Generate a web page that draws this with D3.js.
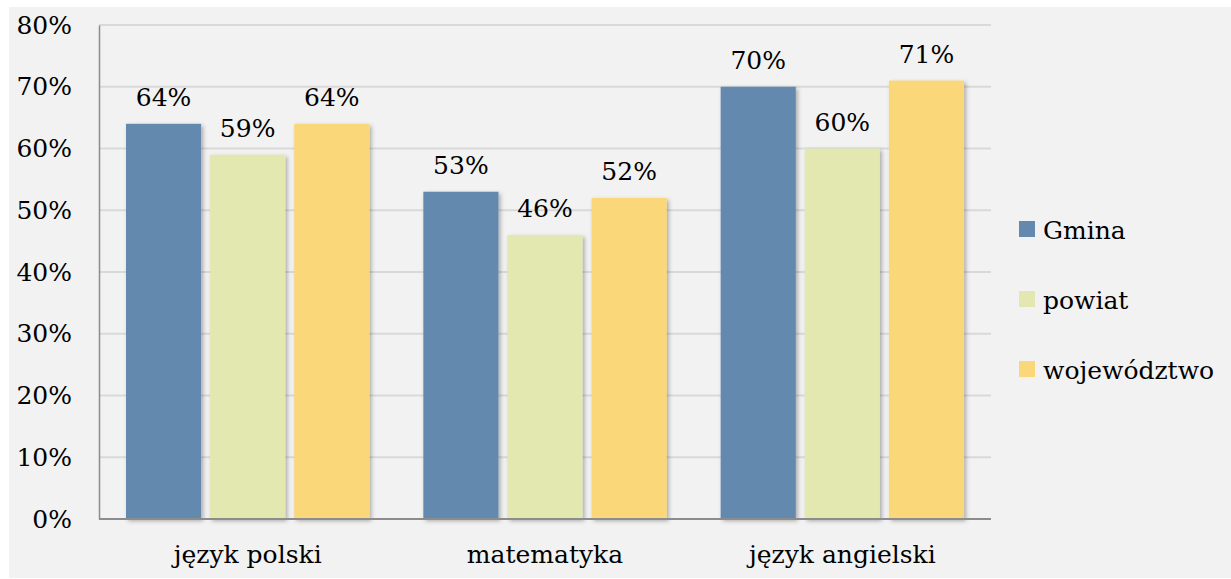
<!DOCTYPE html>
<html>
<head>
<meta charset="utf-8">
<script src="https://cdn.jsdelivr.net/npm/d3@7"></script>
<style>
    body { margin: 0; background: #ffffff; }
    text { font-family: "DejaVu Serif", serif; fill: #000000; }
</style>
</head>
<body>
<div id="chart"></div>
<script>
// data
var categories = ["język polski", "matematyka", "język angielski"];
var seriesNames = ["Gmina", "powiat", "województwo"];
var gmina = [64, 53, 70];
var powiat = [59, 46, 60];
var wojewodztwo = [64, 52, 71];
var yTicks = [0, 10, 20, 30, 40, 50, 60, 70, 80];
var colors = ["#6389ae", "#e2e8b0", "#fad87a"];

var seriesValues = [gmina, powiat, wojewodztwo];

var width = 1231,
    height = 579;

// plot area
var margin = { top: 25, left: 99, right: 240, bottom: 60 };
var plotRight = width - margin.right;   // 991
var plotBottom = height - margin.bottom; // 519

var svg = d3.select("#chart")
    .append("svg")
    .attr("width", width)
    .attr("height", height);

// bar shadow
var defs = svg.append("defs");
var shadow = defs.append("filter")
    .attr("id", "shadow")
    .attr("x", "-10%").attr("y", "-10%")
    .attr("width", "130%").attr("height", "130%");
shadow.append("feDropShadow")
    .attr("dx", 2).attr("dy", 2)
    .attr("stdDeviation", 2)
    .attr("flood-color", "#000")
    .attr("flood-opacity", 0.3);

// grey background
svg.append("rect")
    .attr("x", 9)
    .attr("y", 7)
    .attr("width", width - 9)
    .attr("height", height - 8)
    .attr("fill", "#f2f2f2");

// scales
var x0 = d3.scaleBand()
    .domain(categories)
    .range([margin.left, plotRight])
    .paddingInner(0.1816)
    .paddingOuter(0.0908);

var x1 = d3.scaleBand()
    .domain(seriesNames)
    .range([0, x0.bandwidth()])
    .paddingInner(0.107);

var y = d3.scaleLinear()
    .domain([0, 80])
    .range([plotBottom, margin.top]);

// gridlines
svg.append("g")
    .selectAll("line")
    .data(yTicks.slice(1))
    .enter()
    .append("line")
    .attr("x1", margin.left)
    .attr("x2", plotRight)
    .attr("y1", d => y(d))
    .attr("y2", d => y(d))
    .attr("stroke", "#d9d9d9")
    .attr("stroke-width", 2);

// left y axis
var yAxis = svg.append("g")
    .attr("transform", "translate(" + margin.left + ",0)")
    .call(d3.axisLeft(y)
        .tickValues(yTicks)
        .tickSize(0)
        .tickPadding(27)
        .tickFormat(d => d + "%"));
yAxis.select(".domain")
    .attr("stroke", "#8c8c8c")
    .attr("stroke-width", 1.5);
yAxis.selectAll("text")
    .style("font-size", "25px")
    .style("font-family", "DejaVu Serif");

// bars
var groups = svg.selectAll(".group")
    .data(categories)
    .enter()
    .append("g")
    .attr("class", "group")
    .attr("transform", d => "translate(" + x0(d) + ",0)");

groups.selectAll("rect")
    .data((d, i) => seriesNames.map((s, j) => ({ series: s, value: seriesValues[j][i], idx: j })))
    .enter()
    .append("rect")
    .attr("x", d => x1(d.series))
    .attr("y", d => y(d.value))
    .attr("width", x1.bandwidth())
    .attr("height", d => plotBottom - y(d.value))
    .attr("fill", d => colors[d.idx])
    .attr("filter", "url(#shadow)");

// value labels
groups.selectAll(".value")
    .data((d, i) => seriesNames.map((s, j) => ({ series: s, value: seriesValues[j][i] })))
    .enter()
    .append("text")
    .attr("class", "value")
    .attr("x", d => x1(d.series) + x1.bandwidth() / 2)
    .attr("y", d => y(d.value) - 18)
    .attr("text-anchor", "middle")
    .style("font-size", "25px")
    .text(d => d.value + "%");

// bottom x axis
var xAxis = svg.append("g")
    .attr("transform", "translate(0," + plotBottom + ")")
    .call(d3.axisBottom(x0).tickSize(0).tickPadding(0));
xAxis.select(".domain")
    .attr("d", "M" + margin.left + ",0H" + plotRight)
    .attr("stroke", "#8c8c8c")
    .attr("stroke-width", 2);
xAxis.selectAll("text")
    .attr("dy", null)
    .attr("y", 44)
    .style("font-size", "25px")
    .style("font-family", "DejaVu Serif");

// legend
var legend = svg.selectAll(".legend")
    .data(seriesNames)
    .enter()
    .append("g")
    .attr("class", "legend")
    .attr("transform", (d, i) => "translate(1019," + (221 + i * 70) + ")");

legend.append("rect")
    .attr("width", 16)
    .attr("height", 16)
    .attr("fill", (d, i) => colors[i]);

legend.append("text")
    .attr("x", 24)
    .attr("y", 18)
    .style("font-size", "25px")
    .text(d => d);
</script>
</body>
</html>
